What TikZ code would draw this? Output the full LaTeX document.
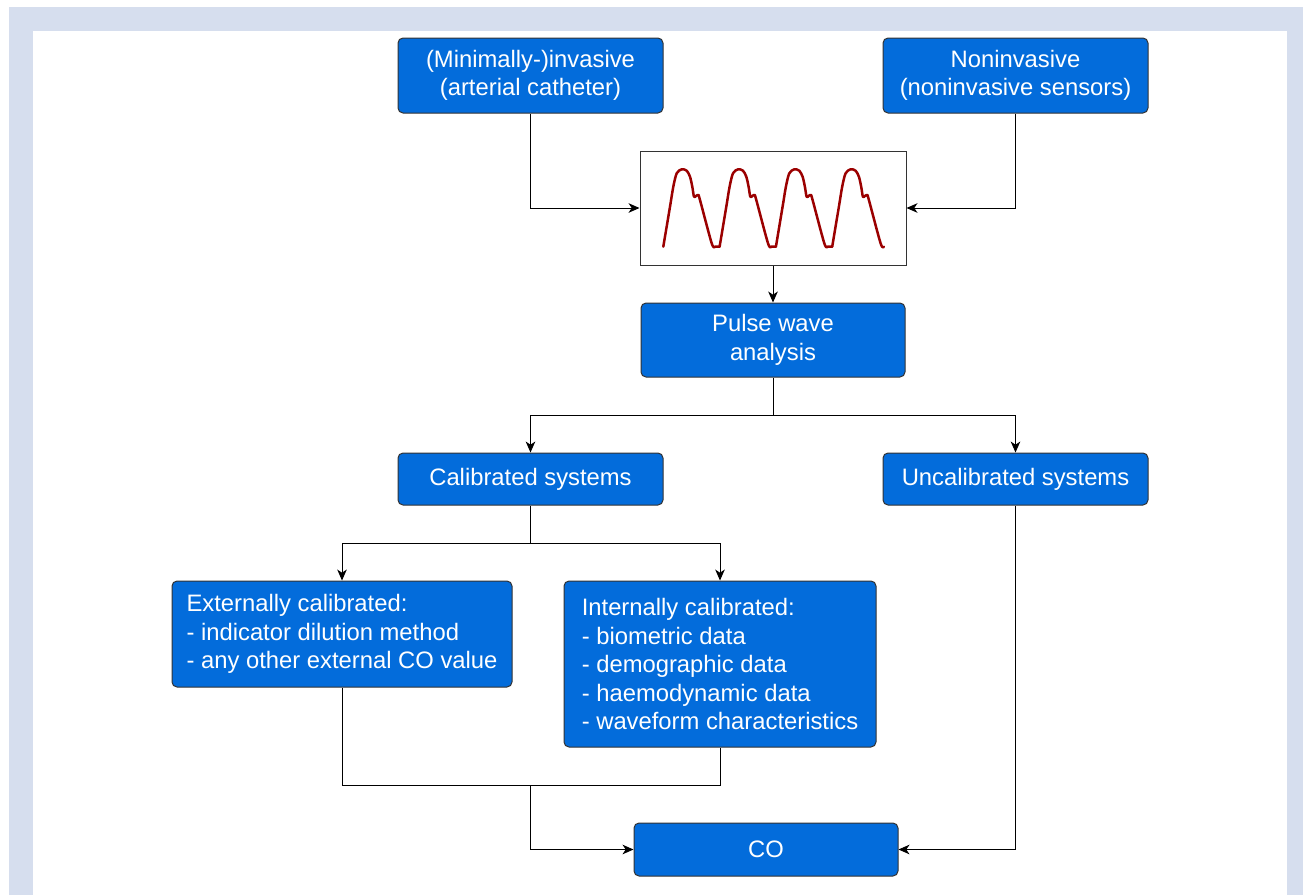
\documentclass[tikz,border=0pt]{standalone}
\usepackage{fontspec}
\setmainfont{Liberation Sans}
\usetikzlibrary{arrows.meta}
\definecolor{boxblue}{RGB}{3,108,219}
\definecolor{frameblue}{RGB}{214,222,238}
\definecolor{pulsered}{RGB}{155,0,0}

\begin{document}
\begin{tikzpicture}[x=0.5pt, y=-0.5pt,
    >={Stealth[length=5.5pt,width=4.8pt,inset=1.6pt]},
    box/.style={draw=black!80, line width=0.5pt, fill=boxblue, text=white, rounded corners=2.5pt,
      align=center, inner sep=0pt, font=\fontsize{11.9}{14.25}\selectfont},
    listbox/.style={box, align=left},
    link/.style={line width=0.5pt, black},
    pulse/.style={line width=1.25pt, pulsered, line cap=round, line join=round}]

    \useasboundingbox (0,0) rectangle (1303,895);
    \fill[frameblue] (9,7) rectangle (1303,895);
    \fill[white] (33,31) rectangle (1287,895);

    \draw(530.5,75.5) node[box, minimum width=132.5pt, minimum height=37.5pt] (inv) {(Minimally-)invasive\\(arterial catheter)};
    \draw(1015.5,75.5) node[box, minimum width=132.5pt, minimum height=37.5pt] (noninv) {Noninvasive\\(noninvasive sensors)};
    \draw(773,208) node[draw=black!80, line width=0.5pt, fill=white, minimum width=133pt, minimum height=57pt] (wave) {};
    \draw(773,340) node[box, minimum width=132pt, minimum height=37pt] (pwa) {Pulse wave\\analysis};
    \draw(530.5,479) node[box, minimum width=132.5pt, minimum height=26pt] (cal) {Calibrated systems};
    \draw(1015.5,479) node[box, minimum width=132.5pt, minimum height=26pt] (uncal) {Uncalibrated systems};
    \draw(342,634) node[listbox, minimum width=170pt, minimum height=53pt] (ext) {Externally calibrated:\\- indicator dilution method\\- any other external CO value};
    \draw(720,664) node[listbox, minimum width=156pt, minimum height=83pt] (int) {Internally calibrated:\\- biometric data\\- demographic data\\- haemodynamic data\\- waveform characteristics};
    \draw(766,849.5) node[box, minimum width=132pt, minimum height=26.5pt] (co) {CO};

    \foreach \s/\e in {0/4.6,1/4.6,2/4.6,3/0}{
      \pgfmathsetmacro\bx{663.3+56.3*\s}
      \draw[pulse] plot[smooth, tension=0.5] coordinates {(\bx,246.7) ({\bx+6.7},206.7) ({\bx+10},186.7)
        ({\bx+13.4},173.3) ({\bx+18.4},169.3) ({\bx+23.4},170.7) ({\bx+26.7},176.7) ({\bx+29},186.7)
        ({\bx+30.7},196.7) ({\bx+32.7},196) ({\bx+35},195) ({\bx+36.7},200) ({\bx+48.4},243.3)
        ({\bx+51.7},246.7)} -- ++(\e,0);
    }

    \coordinate (split1) at (773,415);
    \coordinate (split2) at (530.5,543);
    \coordinate (join) at (530.5,785);

    \draw[link, ->] (inv.south) |- (wave.west);
    \draw[link, ->] (noninv.south) |- (wave.east);
    \draw[link, ->] (wave.south) -- (pwa.north);
    \draw[link] (pwa.south) -- (split1);
    \draw[link, ->] (split1) -| (cal.north);
    \draw[link, ->] (split1) -| (uncal.north);
    \draw[link] (cal.south) -- (split2);
    \draw[link, ->] (split2) -| (ext.north);
    \draw[link, ->] (split2) -| (int.north);
    \draw[link] (ext.south) |- (join);
    \draw[link] (int.south) |- (join);
    \draw[link, ->] (join) |- (co.west);
    \draw[link, ->] (uncal.south) |- (co.east);

\end{tikzpicture}
\end{document}
